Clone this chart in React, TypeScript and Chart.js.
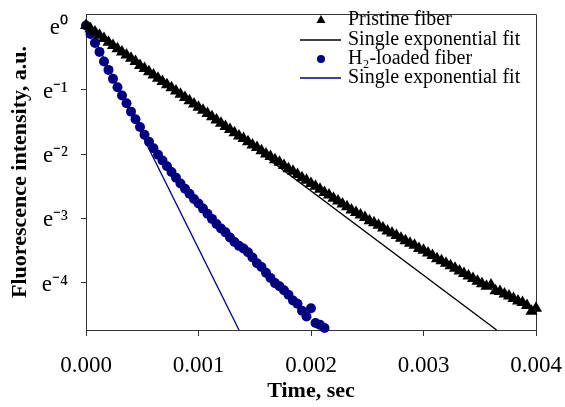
import React, { useEffect, useRef } from "react";
import { Chart, registerables } from "chart.js";

Chart.register(...registerables);

// ---- data (time in ms, intensity as natural log) ----
const pristineTimeMs = [
  0.0, 0.04, 0.08, 0.12, 0.16, 0.2, 0.24, 0.28, 0.32, 0.36,
  0.4, 0.44, 0.48, 0.52, 0.56, 0.6, 0.64, 0.68, 0.72, 0.76,
  0.8, 0.84, 0.88, 0.92, 0.96, 1.0, 1.04, 1.08, 1.12, 1.16,
  1.2, 1.24, 1.28, 1.32, 1.36, 1.4, 1.44, 1.48, 1.52, 1.56,
  1.6, 1.64, 1.68, 1.72, 1.76, 1.8, 1.84, 1.88, 1.92, 1.96,
  2.0, 2.04, 2.08, 2.12, 2.16, 2.2, 2.24, 2.28, 2.32, 2.36,
  2.4, 2.44, 2.48, 2.52, 2.56, 2.6, 2.64, 2.68, 2.72, 2.76,
  2.8, 2.84, 2.88, 2.92, 2.96, 3.0, 3.04, 3.08, 3.12, 3.16,
  3.2, 3.24, 3.28, 3.32, 3.36, 3.4, 3.44, 3.48, 3.52, 3.56,
  3.6, 3.64, 3.68, 3.72, 3.76, 3.8, 3.84, 3.88, 3.92, 3.96,
  4.0,
];
const pristineLnIntensity = [
  0.0, -0.05, -0.1, -0.15, -0.2, -0.26, -0.31, -0.36, -0.41, -0.46,
  -0.51, -0.56, -0.62, -0.67, -0.72, -0.77, -0.82, -0.87, -0.92, -0.97,
  -1.02, -1.07, -1.12, -1.17, -1.22, -1.27, -1.32, -1.37, -1.42, -1.47,
  -1.52, -1.57, -1.62, -1.67, -1.72, -1.76, -1.81, -1.86, -1.9, -1.95,
  -2.0, -2.04, -2.09, -2.13, -2.18, -2.23, -2.27, -2.32, -2.37, -2.41,
  -2.46, -2.5, -2.55, -2.6, -2.64, -2.69, -2.73, -2.78, -2.82, -2.87,
  -2.91, -2.95, -2.99, -3.04, -3.07, -3.11, -3.15, -3.2, -3.23, -3.27,
  -3.31, -3.35, -3.39, -3.42, -3.47, -3.5, -3.54, -3.58, -3.63, -3.66,
  -3.7, -3.74, -3.78, -3.82, -3.86, -3.9, -3.94, -3.98, -4.02, -4.06,
  -4.04, -4.13, -4.14, -4.18, -4.21, -4.25, -4.29, -4.31, -4.36, -4.45,
  -4.4,
];
const h2TimeMs = [
  0.0, 0.04, 0.08, 0.12, 0.16, 0.2, 0.24, 0.28, 0.32, 0.36,
  0.4, 0.44, 0.48, 0.52, 0.56, 0.6, 0.64, 0.68, 0.72, 0.76,
  0.8, 0.84, 0.88, 0.92, 0.96, 1.0, 1.04, 1.08, 1.12, 1.16,
  1.2, 1.24, 1.28, 1.32, 1.36, 1.4, 1.44, 1.48, 1.52, 1.56,
  1.6, 1.64, 1.68, 1.72, 1.76, 1.8, 1.84, 1.88, 1.92, 1.96,
  2.0, 2.04, 2.08, 2.12,
];
const h2LnIntensity = [
  0.0, -0.13, -0.27, -0.41, -0.56, -0.69, -0.83, -0.96, -1.09, -1.21,
  -1.34, -1.46, -1.58, -1.7, -1.81, -1.91, -2.01, -2.1, -2.19, -2.28,
  -2.37, -2.46, -2.54, -2.62, -2.7, -2.77, -2.85, -2.93, -3.01, -3.09,
  -3.16, -3.22, -3.3, -3.37, -3.43, -3.47, -3.53, -3.61, -3.7, -3.76,
  -3.85, -3.93, -4.01, -4.06, -4.12, -4.19, -4.28, -4.33, -4.44, -4.53,
  -4.4, -4.63, -4.66, -4.71,
];
const pristineFitTimeMs = [0, 3.65];
const pristineFitLn = [0.05, -4.74];
const h2FitTimeMs = [0, 1.36];
const h2FitLn = [0.05, -4.74];

const xTickValues = [0, 0.001, 0.002, 0.003, 0.004];
const xTickLabels = ["0.000", "0.001", "0.002", "0.003", "0.004"];
const yTickValues = [0, -1, -2, -3, -4];
const yTickLabels = ["e\u2070", "e\u207B\u00B9", "e\u207B\u00B2", "e\u207B\u00B3", "e\u207B\u2074"];
const seriesLabels = [
  "Pristine fiber",
  "Single exponential fit",
  "H\u2082-loaded fiber",
  "Single exponential fit",
];

const FONT = "'Liberation Serif', 'Times New Roman', serif";
const NAVY = "#000080";

const toPoints = (ts: number[], ys: number[]) =>
  ts.map((t, i) => ({ x: t / 1000, y: ys[i] }));

const framePlugin = {
  id: "frame",
  beforeDatasetsDraw(chart: any) {
    const { ctx, chartArea } = chart;
    ctx.save();
    ctx.strokeStyle = "#333";
    ctx.lineWidth = 1;
    ctx.beginPath();
    ctx.moveTo(chartArea.left, chartArea.top + 0.5);
    ctx.lineTo(chartArea.right + 0.5, chartArea.top + 0.5);
    ctx.lineTo(chartArea.right + 0.5, chartArea.bottom);
    ctx.stroke();
    ctx.restore();
  },
};

const legendPlugin = {
  id: "insideLegend",
  afterDraw(chart: any) {
    const { ctx } = chart;
    const ds = chart.data.datasets;
    const rowY = [20, 40, 59, 78];
    const symX = 321;
    const textX = 348;
    ctx.save();
    ctx.font = `20px ${FONT}`;
    ctx.textBaseline = "middle";
    ctx.textAlign = "left";
    ds.forEach((d: any, i: number) => {
      const y = rowY[i];
      ctx.fillStyle = d.borderColor;
      ctx.strokeStyle = d.borderColor;
      if (d.showLine) {
        ctx.lineWidth = 1.3;
        ctx.beginPath();
        ctx.moveTo(symX - 21, y);
        ctx.lineTo(symX + 20, y);
        ctx.stroke();
      } else if (d.pointStyle === "triangle") {
        ctx.beginPath();
        ctx.moveTo(symX, y - 5);
        ctx.lineTo(symX + 4.5, y + 3);
        ctx.lineTo(symX - 4.5, y + 3);
        ctx.closePath();
        ctx.fill();
      } else {
        ctx.beginPath();
        ctx.arc(symX, y, 4, 0, Math.PI * 2);
        ctx.fill();
      }
      ctx.fillStyle = "#000";
      ctx.fillText(d.label, textX, y);
    });
    ctx.restore();
  },
};

export default function App() {
  const canvasRef = useRef<HTMLCanvasElement>(null);

  useEffect(() => {
    if (!canvasRef.current) return;
    const chart = new Chart(canvasRef.current, {
      type: "scatter",
      data: {
        datasets: [
          {
            label: seriesLabels[0],
            data: toPoints(pristineTimeMs, pristineLnIntensity),
            pointStyle: "triangle",
            pointRadius: 7,
            backgroundColor: "#000",
            borderColor: "#000",
            borderWidth: 0,
            showLine: false,
            clip: false,
            order: 1,
          },
          {
            label: seriesLabels[1],
            data: toPoints(pristineFitTimeMs, pristineFitLn),
            showLine: true,
            pointRadius: 0,
            borderColor: "#000",
            borderWidth: 1.3,
            backgroundColor: "#000",
            order: 3,
          },
          {
            label: seriesLabels[2],
            data: toPoints(h2TimeMs, h2LnIntensity),
            pointStyle: "circle",
            pointRadius: 5,
            backgroundColor: NAVY,
            borderColor: NAVY,
            borderWidth: 0,
            showLine: false,
            clip: false,
            order: 2,
          },
          {
            label: seriesLabels[3],
            data: toPoints(h2FitTimeMs, h2FitLn),
            showLine: true,
            pointRadius: 0,
            borderColor: NAVY,
            borderWidth: 1.3,
            backgroundColor: NAVY,
            order: 4,
          },
        ],
      },
      options: {
        animation: false,
        responsive: false,
        devicePixelRatio: 1,
        layout: { padding: { left: 0, top: 14, right: 29, bottom: 0 } },
        plugins: {
          legend: { display: false },
          tooltip: { enabled: false },
        },
        scales: {
          x: {
            type: "linear",
            min: 0,
            max: 0.004,
            afterBuildTicks: (s: any) => {
              s.ticks = xTickValues.map((v) => ({ value: v }));
            },
            afterFit: (s: any) => {
              s.height = 77;
              s.paddingLeft = 0;
              s.paddingRight = 0;
            },
            ticks: {
              callback: (_v: any, i: number) => xTickLabels[i],
              font: { family: FONT, size: 23 },
              color: "#000",
              padding: 16,
              maxRotation: 0,
              autoSkip: false,
            },
            grid: {
              drawOnChartArea: false,
              drawTicks: true,
              tickLength: 6,
              color: "#333",
            },
            border: { display: true, color: "#333", width: 1 },
            title: {
              display: true,
              text: "Time, sec",
              color: "#000",
              font: { family: FONT, size: 22, weight: "bold" },
              padding: { top: 0, bottom: 2 },
            },
          },
          y: {
            type: "linear",
            min: -4.74,
            max: 0.18,
            afterBuildTicks: (s: any) => {
              s.ticks = yTickValues.map((v) => ({ value: v }));
            },
            afterFit: (s: any) => {
              s.width = 86;
              s.paddingTop = 0;
              s.paddingBottom = 0;
            },
            ticks: {
              callback: (_v: any, i: number) => yTickLabels[i],
              font: { family: FONT, size: 23 },
              color: "#000",
              padding: 13,
              labelOffset: 2,
              autoSkip: false,
            },
            grid: {
              drawOnChartArea: false,
              drawTicks: true,
              tickLength: 5,
              color: "#333",
            },
            border: { display: true, color: "#333", width: 1 },
            title: {
              display: true,
              text: "Fluorescence intensity, a.u.",
              color: "#000",
              font: { family: FONT, size: 22, weight: "bold" },
              padding: { top: 7, bottom: 0 },
            },
          },
        },
      },
      plugins: [framePlugin, legendPlugin],
    } as any);
    return () => chart.destroy();
  }, []);

  return (
    <div style={{ position: "fixed", left: 0, top: 0, width: 565, height: 407, background: "#fff" }}>
      <canvas ref={canvasRef} width={565} height={407} />
    </div>
  );
}
